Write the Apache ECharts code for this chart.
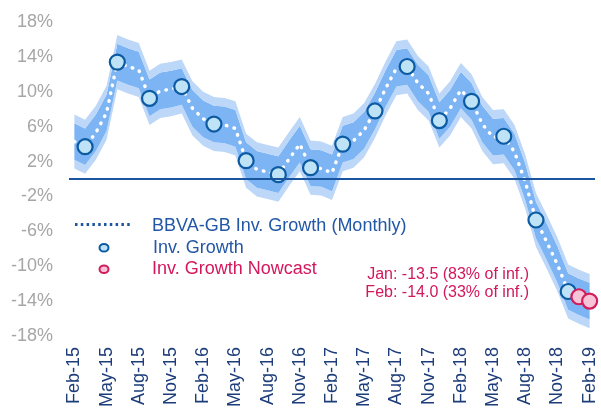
<!DOCTYPE html>
<html>
<head>
<meta charset="utf-8">
<script src="https://cdn.jsdelivr.net/npm/echarts@6/dist/echarts.min.js"></script>
<style>
html,body{margin:0;padding:0;background:#fff;}
#chart{width:601px;height:410px;}
</style>
</head>
<body>
<div id="chart"></div>
<script>
var months = ['Feb-15','Mar-15','Apr-15','May-15','Jun-15','Jul-15','Aug-15','Sep-15','Oct-15','Nov-15','Dec-15',
  'Jan-16','Feb-16','Mar-16','Apr-16','May-16','Jun-16','Jul-16','Aug-16','Sep-16','Oct-16','Nov-16','Dec-16',
  'Jan-17','Feb-17','Mar-17','Apr-17','May-17','Jun-17','Jul-17','Aug-17','Sep-17','Oct-17','Nov-17','Dec-17',
  'Jan-18','Feb-18','Mar-18','Apr-18','May-18','Jun-18','Jul-18','Aug-18','Sep-18','Oct-18','Nov-18','Dec-18',
  'Jan-19','Feb-19'];

// BBVA-GB Inv. Growth (Monthly)
var monthly = [4.3,3.7,5.3,7.6,13.4,12.9,12.5,9.25,10.1,10.3,10.6,
  8.1,6.9,6.3,6.2,5.8,2.1,1.1,0.8,0.5,2.3,4.0,1.3,
  1.2,0.7,4.0,4.4,5.6,7.8,10.4,12.7,12.9,11.0,9.8,6.7,
  8.1,10.2,8.9,6.3,4.8,4.9,3.1,-0.3,-4.7,-7.2,-9.8,-12.9,
  -13.5,-14.0];

// confidence bands
var outerLow = [1.2,0.6,2.2,4.5,10.3,9.8,9.4,6.2,7.0,7.2,7.5,
  5.0,3.8,3.2,3.1,2.7,-1.0,-2.0,-2.3,-2.6,-0.8,0.9,-1.8,
  -1.9,-2.4,0.9,1.3,2.5,4.7,7.3,9.6,9.8,7.9,6.7,3.6,
  5.0,7.1,5.8,3.2,1.7,1.8,0.0,-3.4,-7.8,-10.3,-12.9,-16.0,
  -16.6,-17.1];
var innerLow = [2.2,1.6,3.2,5.5,11.3,10.8,10.4,7.2,8.0,8.2,8.5,
  6.0,4.8,4.2,4.1,3.7,0.0,-1.0,-1.3,-1.6,0.2,1.9,-0.8,
  -0.9,-1.4,1.9,2.3,3.5,5.7,8.3,10.6,10.8,8.9,7.7,4.6,
  6.0,8.1,6.8,4.2,2.7,2.8,1.0,-2.4,-6.8,-9.3,-11.9,-15.0,
  -15.6,-16.1];
var innerHigh = [6.4,5.8,7.4,9.7,15.5,15.0,14.6,11.4,12.2,12.4,12.7,
  10.2,9.0,8.4,8.3,7.9,4.2,3.2,2.9,2.6,4.4,6.1,3.4,
  3.3,2.8,6.1,6.5,7.7,9.9,12.5,14.8,15.0,13.1,11.9,8.8,
  10.2,12.3,11.0,8.4,6.9,7.0,5.2,1.8,-2.6,-5.1,-7.7,-10.8,
  -11.4,-11.9];
var outerHigh = [7.4,6.8,8.4,10.7,16.5,16.0,15.6,12.4,13.2,13.4,13.7,
  11.2,10.0,9.4,9.3,8.9,5.2,4.2,3.9,3.6,5.4,7.1,4.4,
  4.3,3.8,7.1,7.5,8.7,10.9,13.5,15.8,16.0,14.1,12.9,9.8,
  11.2,13.3,12.0,9.4,7.9,8.0,6.2,2.8,-1.6,-4.1,-6.7,-9.8,
  -10.4,-10.9];

// Inv. Growth (quarterly)
var quarterMonths = ['Mar-15','Jun-15','Sep-15','Dec-15','Mar-16','Jun-16','Sep-16','Dec-16',
  'Mar-17','Jun-17','Sep-17','Dec-17','Mar-18','Jun-18','Sep-18','Dec-18'];
var quarterValues = [3.7,13.4,9.25,10.6,6.3,2.1,0.5,1.3,4.0,7.8,12.9,6.7,8.9,4.9,-4.7,-12.9];

// Inv. Growth Nowcast
var nowcastMonths = ['Jan-19','Feb-19'];
var nowcastValues = [-13.5,-14.0];

var yTicks = [-18,-14,-10,-6,-2,2,6,10,14,18];

var FONT = '"Liberation Sans", Arial, sans-serif';
var OUTER = '#bdd7f9';
var INNER = '#7db4f4';

function diff(a, b) { return a.map(function (v, i) { return +(v - b[i]).toFixed(3); }); }

var chart = echarts.init(document.getElementById('chart'), null, {renderer: 'canvas'});

var bandBase = {type: 'line', stack: 'band', stackStrategy: 'all', symbol: 'none', silent: true,
  lineStyle: {width: 0, opacity: 0}};

chart.setOption({
  animation: false,
  grid: {left: 69, right: 6, top: 22, bottom: 73},
  xAxis: {
    type: 'category', data: months, boundaryGap: true,
    axisLine: {show: false}, axisTick: {show: false},
    axisLabel: {interval: 2, rotate: 90, fontSize: 18, color: '#1c3d7a', fontFamily: FONT, margin: 11}
  },
  yAxis: {
    type: 'value', min: -18, max: 18, interval: 2,
    axisLine: {show: false}, axisTick: {show: false}, splitLine: {show: false},
    axisLabel: {
      fontSize: 18, color: '#a6a6a6', fontFamily: FONT, margin: 16, padding: [2, 0, 0, 0],
      formatter: function (v) { return yTicks.indexOf(v) >= 0 ? v + '%' : ''; }
    }
  },
  series: [
    Object.assign({}, bandBase, {name: 'base', data: outerLow}),
    Object.assign({}, bandBase, {name: 'outerLowBand', data: diff(innerLow, outerLow), areaStyle: {color: OUTER, opacity: 1}}),
    Object.assign({}, bandBase, {name: 'innerBand', data: diff(innerHigh, innerLow), areaStyle: {color: INNER, opacity: 1}}),
    Object.assign({}, bandBase, {name: 'outerHighBand', data: diff(outerHigh, innerHigh), areaStyle: {color: OUTER, opacity: 1},
      markLine: {silent: true, symbol: 'none', label: {show: false},
        lineStyle: {color: '#1a55a0', width: 2, type: 'solid'},
        data: [{yAxis: 0}]}}),
    {
      name: 'BBVA-GB Inv. Growth (Monthly)', type: 'line', data: monthly, symbol: 'none',
      lineStyle: {color: '#ffffff', width: 3.5, type: [0.5, 7.5], cap: 'round'}, z: 3
    },
    {
      name: 'Inv. Growth', type: 'scatter', z: 4, symbolSize: 15,
      data: quarterMonths.map(function (m, i) { return [m, quarterValues[i]]; }),
      itemStyle: {color: '#bee3f6', borderColor: '#0b5aa2', borderWidth: 2.2, opacity: 1}
    },
    {
      name: 'Inv. Growth Nowcast', type: 'scatter', z: 4, symbolSize: 15,
      data: nowcastMonths.map(function (m, i) { return [m, nowcastValues[i]]; }),
      itemStyle: {color: '#f6c4d6', borderColor: '#d11c5e', borderWidth: 2.2, opacity: 1}
    }
  ],
  graphic: [
    {type: 'line', shape: {x1: 75, y1: 224.5, x2: 130, y2: 224.5},
      style: {stroke: '#1f55a0', lineWidth: 3, lineDash: [2.5, 3.3]}},
    {type: 'text', left: 152, top: 217,
      style: {text: 'BBVA-GB Inv. Growth (Monthly)', fontSize: 18, fontFamily: FONT, fill: '#2257a6'}},
    {type: 'ellipse', shape: {cx: 104, cy: 247.7, rx: 4.5, ry: 3.8},
      style: {fill: '#bee3f6', stroke: '#0b5aa2', lineWidth: 2}},
    {type: 'text', left: 153, top: 239,
      style: {text: 'Inv. Growth', fontSize: 18, fontFamily: FONT, fill: '#2257a6'}},
    {type: 'ellipse', shape: {cx: 104, cy: 269.3, rx: 4.5, ry: 3.8},
      style: {fill: '#f6c4d6', stroke: '#d11c5e', lineWidth: 2}},
    {type: 'text', left: 152, top: 260.5,
      style: {text: 'Inv. Growth Nowcast', fontSize: 18, fontFamily: FONT, fill: '#d3175c'}},
    {type: 'text', right: 72, top: 267,
      style: {text: 'Jan: -13.5 (83% of inf.)', fontSize: 16, fontFamily: FONT, fill: '#d3175c', align: 'right'}},
    {type: 'text', right: 72, top: 285,
      style: {text: 'Feb: -14.0 (33% of inf.)', fontSize: 16, fontFamily: FONT, fill: '#d3175c', align: 'right'}}
  ]
});
</script>
</body>
</html>
